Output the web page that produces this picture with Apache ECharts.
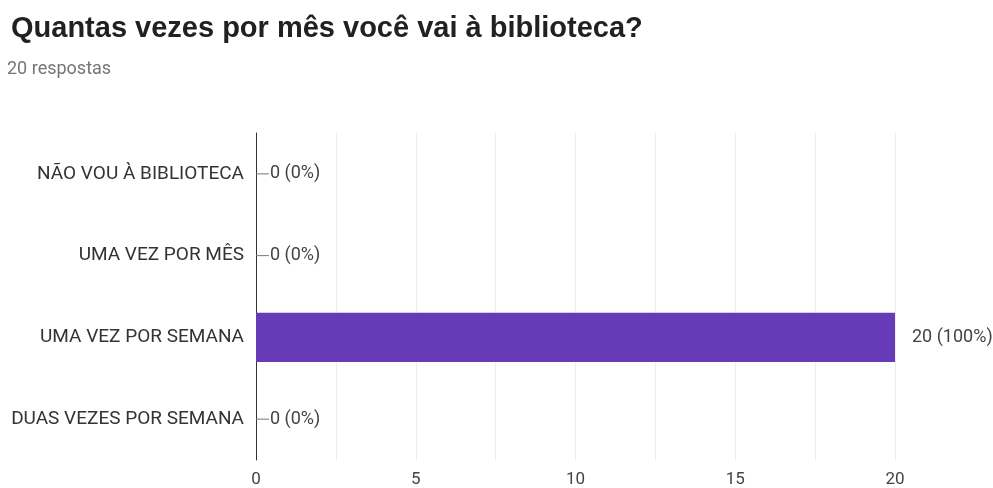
<!DOCTYPE html>
<html>
<head>
<meta charset="utf-8">
<script src="https://cdn.jsdelivr.net/npm/echarts@6/dist/echarts.min.js"></script>
<style>
html,body{margin:0;padding:0;background:#fff;}
#c{width:993px;height:488px;}
</style>
</head>
<body>
<div id="c"></div>
<script>
const titleText = 'Quantas vezes por mês você vai à biblioteca?';
const subtitleText = '20 respostas';
const categories = ['NÃO VOU À BIBLIOTECA', 'UMA VEZ POR MÊS', 'UMA VEZ POR SEMANA', 'DUAS VEZES POR SEMANA'];
const counts = [0, 0, 20, 0];
const percents = [0, 0, 100, 0];
const tickLabels = ['0', '5', '10', '15', '20'];

const FONT = 'Roboto, sans-serif';
const TFONT = '"Liberation Sans", Arial, sans-serif';
const chart = echarts.init(document.getElementById('c'));
chart.setOption({
  animation: false,
  backgroundColor: '#fff',
  title: [{
    text: titleText,
    left: 11,
    top: 14,
    padding: 0,
    textStyle: {fontFamily: TFONT, fontWeight: 'bold', fontSize: 29, color: '#212121'}
  }, {
    text: subtitleText,
    left: 7,
    top: 60,
    padding: 0,
    textStyle: {fontFamily: FONT, fontWeight: 'normal', fontSize: 18, color: '#757575'}
  }],
  grid: {left: 256, right: 98, top: 133, bottom: 27, containLabel: false, show: false},
  xAxis: {
    type: 'value',
    min: 0,
    max: 20,
    interval: 2.5,
    axisLine: {show: false},
    axisTick: {show: false},
    splitLine: {show: true, lineStyle: {color: '#ececec', width: 1}},
    axisLabel: {
      fontFamily: FONT, fontSize: 17, color: '#444', margin: 11,
      formatter: function (v) {
        const s = String(v);
        return tickLabels.indexOf(s) >= 0 ? s : '';
      }
    }
  },
  yAxis: {
    type: 'category',
    inverse: true,
    data: categories,
    axisLine: {show: true, lineStyle: {color: '#333', width: 1}},
    axisTick: {show: false},
    splitLine: {show: false},
    axisLabel: {fontFamily: FONT, fontSize: 19, color: '#333', margin: 12}
  },
  series: [{
    type: 'bar',
    data: counts,
    barWidth: '60%',
    itemStyle: {color: '#673ab7'},
    label: {
      show: true,
      position: 'right',
      distance: 0,
      fontFamily: FONT,
      fontSize: 18,
      color: '#444',
      formatter: function (p) {
        const t = counts[p.dataIndex] + ' (' + percents[p.dataIndex] + '%)';
        return counts[p.dataIndex] === 0 ? '{ln|}{t|' + t + '}' : '{gap|}{t|' + t + '}';
      },
      rich: {
        ln: {width: 13, height: 1, backgroundColor: '#777'},
        gap: {width: 16, height: 1},
        t: {fontFamily: FONT, fontSize: 18, color: '#444', padding: [0, 0, 0, 1]}
      }
    }
  }]
});
</script>
</body>
</html>
